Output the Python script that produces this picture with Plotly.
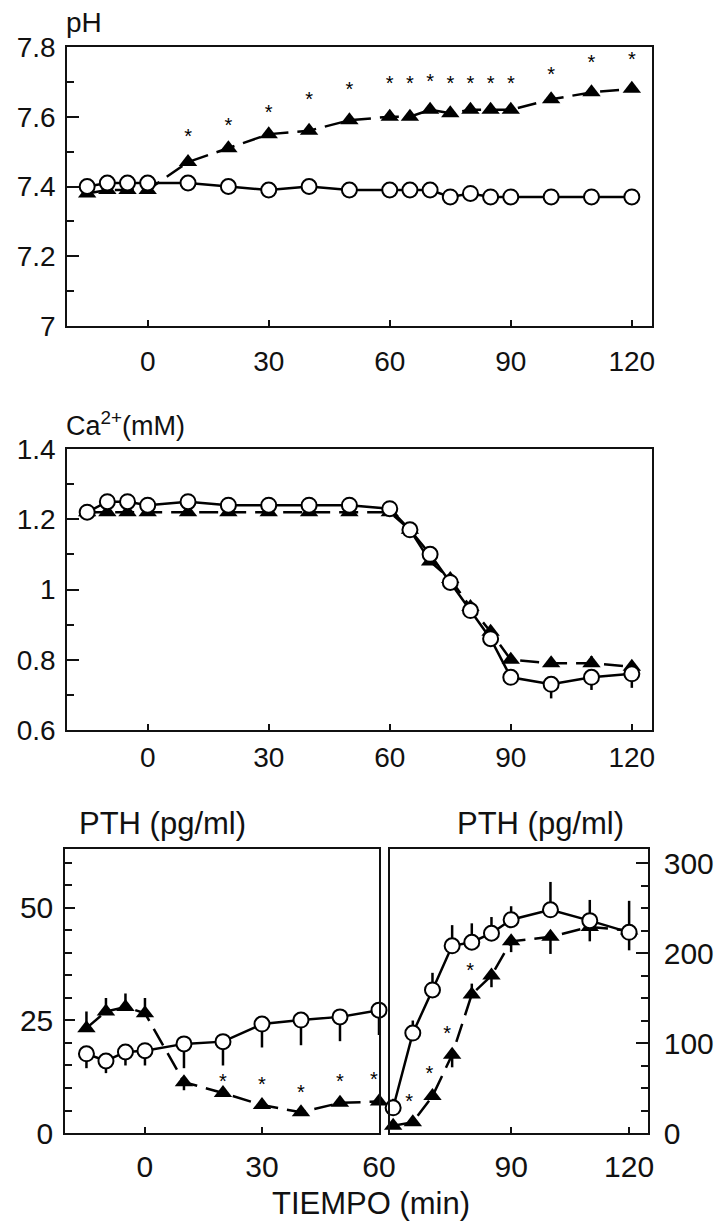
import plotly.graph_objects as go

W, H = 716, 1224
FONT = "Liberation Sans, Arial, sans-serif"

# ---------------- data ----------------
# pH panel
ph_time = [-15, -10, -5, 0, 10, 20, 30, 40, 50, 60, 65, 70, 75, 80, 85, 90, 100, 110, 120]
ph_ctrl = [7.40, 7.41, 7.41, 7.41, 7.41, 7.40, 7.39, 7.40, 7.39, 7.39, 7.39, 7.39, 7.37, 7.38, 7.37, 7.37, 7.37, 7.37, 7.37]
ph_ctrl_err = [0.012, 0.012, 0.006, 0.006, 0.006, 0, 0, 0, 0, 0, 0, 0, 0, 0, 0, 0, 0, 0, 0]
ph_treat = [7.38, 7.39, 7.39, 7.39, 7.47, 7.51, 7.55, 7.56, 7.59, 7.60, 7.60, 7.62, 7.61, 7.62, 7.62, 7.62, 7.65, 7.67, 7.68]
ph_treat_err = [0, 0, 0, 0, 0, 0, 0, 0, 0, 0, 0, 0, 0, 0, 0, 0, 0.008, 0.01, 0.015]
ph_star_x = [10, 20, 30, 40, 50, 60, 65, 70, 75, 80, 85, 90, 100, 110, 120]
ph_star_y = [7.540, 7.572, 7.609, 7.644, 7.675, 7.692, 7.692, 7.698, 7.692, 7.692, 7.692, 7.692, 7.718, 7.750, 7.761]
ph_ticks = [7, 7.2, 7.4, 7.6, 7.8]
ph_ticktext = ["7", "7.2", "7.4", "7.6", "7.8"]

# Ca2+ panel
ca_time = [-15, -10, -5, 0, 10, 20, 30, 40, 50, 60, 65, 70, 75, 80, 85, 90, 100, 110, 120]
ca_ctrl = [1.22, 1.25, 1.25, 1.24, 1.25, 1.24, 1.24, 1.24, 1.24, 1.23, 1.17, 1.10, 1.02, 0.94, 0.86, 0.75, 0.73, 0.75, 0.76]
ca_ctrl_err = [0, 0, 0, 0, 0, 0, 0, 0, 0, 0, 0, 0, 0, 0, 0, 0.01, 0.04, 0.036, 0.04]
ca_treat = [1.22, 1.22, 1.22, 1.22, 1.22, 1.22, 1.22, 1.22, 1.22, 1.22, 1.17, 1.08, 1.03, 0.95, 0.88, 0.80, 0.79, 0.79, 0.78]
ca_treat_err = [0, 0, 0, 0, 0, 0, 0, 0, 0, 0, 0, 0, 0, 0, 0, 0, 0, 0.02, 0.015]
ca_ticks = [0.6, 0.8, 1.0, 1.2, 1.4]
ca_ticktext = ["0.6", "0.8", "1", "1.2", "1.4"]

# PTH, first part (left axis, pg/ml)
pth1_time = [-15, -10, -5, 0, 10, 20, 30, 40, 50, 60]
pth1_ctrl = [17.6, 16.0, 18.0, 18.3, 19.8, 20.3, 24.2, 25.1, 25.8, 27.3]
pth1_ctrl_err_dn = [3.2, 2.7, 3.0, 3.3, 5.4, 5.3, 5.2, 5.6, 5.4, 5.5]
pth1_treat = [23.3, 27.0, 28.0, 26.6, 11.3, 8.9, 6.2, 4.6, 6.7, 7.0]
pth1_treat_err_up = [3.7, 3.0, 3.0, 3.4, 0, 0, 0, 0, 0, 0]
pth1_treat_err_dn = [0, 0, 0, 0, 1.8, 0, 0, 0, 0, 0]
pth1_star_x = [20, 30, 40, 50, 58.7]
pth1_star_y = [11.0, 10.5, 8.6, 11.0, 11.6]
pth1_ticks = [0, 25, 50]

# PTH, second part (right axis, pg/ml)
pth2_time = [60, 65, 70, 75, 80, 85, 90, 100, 110, 120]
pth2_ctrl = [28, 111, 159, 208, 212, 222, 237, 248, 236, 223]
pth2_ctrl_err_up = [10, 14, 19, 23, 21, 18, 15, 31, 23, 35]
pth2_ctrl_err_dn = [0, 0, 0, 0, 0, 0, 0, 0, 23, 20]
pth2_treat = [8, 12, 41, 87, 154, 175, 213, 218, 229, 225]
pth2_treat_err_up = [0, 0, 0, 0, 12, 0, 0, 0, 0, 0]
pth2_treat_err_dn = [0, 0, 0, 14, 0, 13, 12, 19, 0, 0]
pth2_star_x = [64.1, 69.2, 73.7, 79.6]
pth2_star_y = [33, 65, 109, 179]
pth2_ticks = [0, 100, 200, 300]

time_ticks = [0, 30, 60, 90, 120]

# ---------------- geometry helpers ----------------
def px(x):
    return x / W

def py(y):
    return 1 - y / H

INK = "#111"
TF_TOP = dict(family=FONT, size=28, color=INK)
TF_BOT = dict(family=FONT, size=30, color=INK)

AX = dict(showgrid=False, zeroline=False, showline=True, linecolor=INK, linewidth=1.5,
          ticks="inside", tickcolor=INK, tickwidth=1.5, mirror=True, automargin=False,
          tickfont=TF_TOP)

def minor(dt, t0):
    return dict(dtick=dt, tick0=t0, ticklen=7, ticks="inside", tickcolor=INK, tickwidth=1.5)

fig = go.Figure()

def add_pair(xs, ctrl, treat, xa, ya, ctrl_err=None, treat_err=None):
    fig.add_trace(go.Scatter(
        x=xs, y=treat, xaxis=xa, yaxis=ya, mode="lines+markers",
        line=dict(color="black", width=2.5, dash="19px,9px"),
        marker=dict(symbol="triangle-up", size=16, color="black"),
        error_y=treat_err, cliponaxis=False, showlegend=False))
    fig.add_trace(go.Scatter(
        x=xs, y=ctrl, xaxis=xa, yaxis=ya, mode="lines+markers",
        line=dict(color="black", width=2.5),
        marker=dict(symbol="circle", size=15, color="white", line=dict(color="black", width=2)),
        error_y=ctrl_err, cliponaxis=False, showlegend=False))

def eb(up, dn=None):
    if dn is None:
        dn = [0] * len(up)
    return dict(type="data", symmetric=False, array=up, arrayminus=dn,
                color="black", thickness=2.5, width=0)

def stars(xs, ys, xa, ya):
    fig.add_trace(go.Scatter(x=xs, y=ys, xaxis=xa, yaxis=ya, mode="text",
                             text=["*"] * len(xs), cliponaxis=False,
                             textfont=dict(family=FONT, size=20, color="black"), showlegend=False))

# pH
add_pair(ph_time, ph_ctrl, ph_treat, "x", "y", eb(ph_ctrl_err), eb(ph_treat_err))
stars(ph_star_x, ph_star_y, "x", "y")
# Ca
add_pair(ca_time, ca_ctrl, ca_treat, "x2", "y2", eb([0] * len(ca_ctrl_err), ca_ctrl_err), eb(ca_treat_err))
# PTH left
add_pair(pth1_time, pth1_ctrl, pth1_treat, "x3", "y3",
         eb([0] * len(pth1_ctrl_err_dn), pth1_ctrl_err_dn), eb(pth1_treat_err_up, pth1_treat_err_dn))
stars(pth1_star_x, pth1_star_y, "x3", "y3")
# PTH right
add_pair(pth2_time, pth2_ctrl, pth2_treat, "x4", "y4",
         eb(pth2_ctrl_err_up, pth2_ctrl_err_dn), eb(pth2_treat_err_up, pth2_treat_err_dn))
stars(pth2_star_x, pth2_star_y, "x4", "y4")

fig.update_layout(
    width=W, height=H, margin=dict(l=0, r=0, t=0, b=0, pad=0, autoexpand=False),
    paper_bgcolor="white", plot_bgcolor="white", showlegend=False,
    xaxis=dict(AX, domain=[px(67), px(652)], range=[-20, 125], tickvals=time_ticks,
               ticklen=6, anchor="y", ticklabelstandoff=10),
    yaxis=dict(AX, domain=[py(326), py(47)], range=[7, 7.8], tickvals=ph_ticks, ticktext=ph_ticktext,
               ticklen=12, anchor="x", ticklabelstandoff=4, minor=minor(0.1, 7)),
    xaxis2=dict(AX, domain=[px(67), px(652)], range=[-20, 125], tickvals=time_ticks,
                ticklen=6, anchor="y2", ticklabelstandoff=2),
    yaxis2=dict(AX, domain=[py(730), py(449)], range=[0.6, 1.4], tickvals=ca_ticks, ticktext=ca_ticktext,
                ticklen=12, anchor="x2", ticklabelstandoff=4, minor=minor(0.1, 0.6)),
    xaxis3=dict(AX, domain=[px(65), px(379)], range=[-20.5, 60], tickvals=time_ticks[:3],
                ticklen=6, anchor="y3", ticklabelstandoff=6, tickfont=TF_BOT),
    yaxis3=dict(AX, domain=[py(1133), py(849)], range=[0, 63.1], tickvals=pth1_ticks,
                ticklen=10, anchor="x3", ticklabelstandoff=4, tickfont=TF_BOT, minor=minor(5, 0)),
    xaxis4=dict(AX, domain=[px(390), px(648)], range=[59.2, 124.8], tickvals=time_ticks[3:],
                ticklen=6, anchor="y4", ticklabelstandoff=6, tickfont=TF_BOT),
    yaxis4=dict(AX, domain=[py(1133), py(849)], range=[0, 315.6], tickvals=pth2_ticks, side="right",
                ticklen=12, anchor="x4", ticklabelstandoff=8, tickfont=TF_BOT, minor=minor(25, 0)),
)

def label(text, x, y, xanchor="left", size=26):
    fig.add_annotation(text=text, x=px(x), y=py(y), xref="paper", yref="paper",
                       xanchor=xanchor, yanchor="middle", showarrow=False,
                       font=dict(family=FONT, size=size, color=INK))

label("pH", 64, 22, size=28)
label("Ca<sup>2+</sup>(mM)", 64, 424, size=27)
label("PTH (pg/ml)", 77, 823, size=31)
label("PTH (pg/ml)", 626, 823, xanchor="right", size=31)
label("TIEMPO (min)", 371, 1203, xanchor="center", size=31)

fig.write_html("out.html")
